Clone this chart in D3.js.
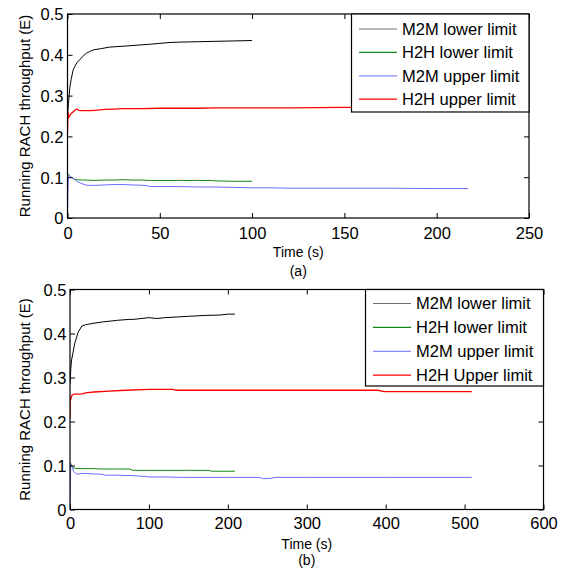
<!DOCTYPE html>
<html>
<head>
<meta charset="utf-8">
<script src="https://cdn.jsdelivr.net/npm/d3@7"></script>
<style>
  body { margin: 0; background: #fff; }
  svg { display: block; }
  text { font-family: "Liberation Sans", Arial, sans-serif; fill: #000; }
</style>
</head>
<body>
<svg id="chart" width="569" height="574"></svg>
<script>
// ---------- DATA ----------
const seriesNames = ["M2M lower limit", "H2H lower limit", "M2M upper limit", "H2H upper limit"];
const seriesNamesB = ["M2M lower limit", "H2H lower limit", "M2M upper limit", "H2H Upper limit"];
const yTicks = [0, 0.1, 0.2, 0.3, 0.4, 0.5];
const yTickLabels = ["0", "0.1", "0.2", "0.3", "0.4", "0.5"];
const xTicksA = [0, 50, 100, 150, 200, 250];
const xTickLabelsA = ["0", "50", "100", "150", "200", "250"];
const xTicksB = [0, 100, 200, 300, 400, 500, 600];
const xTickLabelsB = ["0", "100", "200", "300", "400", "500", "600"];

// (a) top chart
const tA_M2MLower = [0, 0.5, 1.3, 2, 3, 4, 5, 6.7, 8, 10.3, 12, 14, 18, 23, 30, 39, 45, 50, 55, 60, 70, 80, 90, 100];
const vA_M2MLower = [0.25, 0.28, 0.322, 0.34, 0.362, 0.372, 0.38, 0.388, 0.395, 0.404, 0.408, 0.412, 0.415, 0.419, 0.421, 0.424, 0.426, 0.428, 0.43, 0.431, 0.432, 0.433, 0.434, 0.435];
const tA_H2HLower = [0, 0.5, 1, 2, 3, 4, 5, 8, 10, 15, 20, 25, 30, 35, 40, 45, 50, 60, 70, 78, 80, 90, 100];
const vA_H2HLower = [0.105, 0.108, 0.104, 0.1, 0.097, 0.095, 0.094, 0.093, 0.093, 0.092, 0.093, 0.093, 0.094, 0.093, 0.093, 0.092, 0.092, 0.092, 0.092, 0.092, 0.091, 0.090, 0.090];
const tA_M2MUpper = [0, 0.2, 0.5, 1, 2, 3, 4, 5, 7, 9, 11, 13, 15, 20, 25, 30, 35, 42, 45, 50, 60, 70, 80, 90, 100, 110, 120, 130, 150, 175, 200, 217];
const vA_M2MUpper = [0, 0.06, 0.1, 0.105, 0.1, 0.097, 0.094, 0.09, 0.086, 0.082, 0.08, 0.08, 0.08, 0.081, 0.082, 0.082, 0.081, 0.080, 0.077, 0.077, 0.077, 0.076, 0.076, 0.075, 0.074, 0.074, 0.073, 0.073, 0.073, 0.073, 0.072, 0.072];
const tA_H2HUpper = [0, 0.3, 0.6, 1, 2, 3, 4, 5, 6, 8, 10, 12, 15, 20, 25, 30, 40, 50, 55, 60, 70, 80, 100, 120, 150, 175, 200, 217];
const vA_H2HUpper = [0.208, 0.26, 0.245, 0.25, 0.256, 0.26, 0.264, 0.267, 0.264, 0.263, 0.263, 0.263, 0.264, 0.266, 0.267, 0.268, 0.268, 0.269, 0.269, 0.269, 0.269, 0.27, 0.270, 0.270, 0.271, 0.271, 0.271, 0.271];

// (b) bottom chart
const tB_M2MLower = [0, 0.5, 1, 2, 4, 6, 8.5, 10, 15, 20, 29, 40, 50, 60, 75, 80, 100, 110, 120, 150, 170, 190, 200, 209];
const vB_M2MLower = [0.285, 0.3, 0.32, 0.34, 0.358, 0.378, 0.392, 0.402, 0.417, 0.42, 0.423, 0.426, 0.428, 0.43, 0.432, 0.432, 0.436, 0.434, 0.436, 0.439, 0.441, 0.442, 0.444, 0.444];
const tB_H2HLower = [0, 1, 3, 5, 10, 20, 30, 40, 60, 75, 80, 100, 150, 175, 180, 209];
const vB_H2HLower = [0.108, 0.104, 0.097, 0.094, 0.093, 0.093, 0.093, 0.092, 0.092, 0.092, 0.089, 0.089, 0.089, 0.089, 0.087, 0.087];
const tB_M2MUpper = [0, 0.3, 1, 2, 3, 4, 5, 7, 10, 15, 20, 30, 40, 45, 60, 80, 95, 100, 120, 140, 150, 200, 240, 245, 255, 260, 300, 400, 509];
const vB_M2MUpper = [0, 0.05, 0.103, 0.1, 0.095, 0.09, 0.086, 0.082, 0.08, 0.082, 0.082, 0.081, 0.08, 0.078, 0.078, 0.077, 0.075, 0.074, 0.074, 0.073, 0.073, 0.073, 0.073, 0.070, 0.071, 0.073, 0.073, 0.073, 0.073];
const tB_H2HUpper = [0, 0.3, 0.8, 2.5, 5, 8, 12, 15, 20, 30, 50, 70, 100, 110, 130, 135, 200, 300, 390, 398, 400, 509];
const vB_H2HUpper = [0.207, 0.253, 0.25, 0.26, 0.262, 0.262, 0.262, 0.263, 0.265, 0.267, 0.269, 0.271, 0.273, 0.273, 0.273, 0.271, 0.271, 0.271, 0.271, 0.268, 0.268, 0.268];

const colors = ["#000000", "#118811", "#6a6aff", "#ff0000"];
const legendColors = ["#707070", "#118811", "#8888ff", "#ff0000"];

// ---------- DRAW ----------
const svg = d3.select("#chart");

function drawChart(cfg) {
  const x = d3.scaleLinear().domain(cfg.xDomain).range([cfg.left, cfg.right]);
  const y = d3.scaleLinear().domain([0, 0.5]).range([cfg.bottom, cfg.top]);
  const g = svg.append("g");

  const clipId = "clip" + cfg.id;
  g.append("clipPath").attr("id", clipId).append("rect")
    .attr("x", cfg.left).attr("y", cfg.top)
    .attr("width", cfg.right - cfg.left).attr("height", cfg.bottom - cfg.top);

  const line = d3.line().x(d => x(d[0])).y(d => y(d[1]));
  const lines = g.append("g").attr("clip-path", `url(#${clipId})`);
  cfg.series.forEach((s, i) => {
    const pts = s.t.map((t, k) => [t, s.v[k]]);
    lines.append("path").datum(pts)
      .attr("d", line)
      .attr("fill", "none")
      .attr("stroke", colors[i])
      .attr("stroke-width", i === 3 ? 1.3 : 1)
      .attr("stroke-linejoin", "round");
  });

  // axes with inward ticks on all four sides
  const tickLen = 5;
  const axB = d3.axisBottom(x).tickValues(cfg.xTicks).tickFormat((d, i) => cfg.xTickLabels[i]).tickSizeInner(-tickLen).tickSizeOuter(0).tickPadding(0);
  const axT = d3.axisTop(x).tickValues(cfg.xTicks).tickFormat("").tickSizeInner(-tickLen).tickSizeOuter(0);
  const axL = d3.axisLeft(y).tickValues(yTicks).tickFormat((d, i) => yTickLabels[i]).tickSizeInner(-tickLen).tickSizeOuter(0).tickPadding(0);
  const axR = d3.axisRight(y).tickValues(yTicks).tickFormat("").tickSizeInner(-tickLen).tickSizeOuter(0);

  const gB = g.append("g").attr("transform", `translate(0,${cfg.bottom})`).call(axB);
  const gT = g.append("g").attr("transform", `translate(0,${cfg.top})`).call(axT);
  const gL = g.append("g").attr("transform", `translate(${cfg.left},0)`).call(axL);
  const gR = g.append("g").attr("transform", `translate(${cfg.right},0)`).call(axR);
  [gB, gT, gL, gR].forEach(a => {
    a.select(".domain").remove();
    a.selectAll(".tick line").attr("stroke", "#000").attr("stroke-width", 1);
  });
  gB.selectAll(".tick text").attr("font-size", 16.5).attr("font-family", "Liberation Sans, Arial, sans-serif")
    .attr("dy", null).attr("y", cfg.xLabelBase - cfg.bottom);
  gL.selectAll(".tick text").attr("font-size", 16.5).attr("font-family", "Liberation Sans, Arial, sans-serif")
    .attr("x", cfg.yLabelRight - cfg.left).attr("dy", "0.36em");

  // frame
  g.append("rect")
    .attr("x", cfg.left).attr("y", cfg.top)
    .attr("width", cfg.right - cfg.left).attr("height", cfg.bottom - cfg.top)
    .attr("fill", "none").attr("stroke", "#000").attr("stroke-width", 1.2);

  // axis titles
  g.append("text").attr("x", (cfg.left + cfg.right) / 2).attr("y", cfg.xTitleBase)
    .attr("text-anchor", "middle").attr("font-size", 14).text("Time (s)");
  g.append("text").attr("x", (cfg.left + cfg.right) / 2).attr("y", cfg.capBase)
    .attr("text-anchor", "middle").attr("font-size", 14).text(cfg.caption);
  g.append("text")
    .attr("transform", `translate(${cfg.yTitleX},${(cfg.top + cfg.bottom) / 2}) rotate(-90)`)
    .attr("text-anchor", "middle").attr("font-size", 15).text("Running RACH throughput (E)");

  // legend
  const lg = g.append("g");
  lg.append("rect").attr("x", cfg.lgX).attr("y", cfg.top)
    .attr("width", cfg.right - cfg.lgX).attr("height", cfg.lgBottom - cfg.top)
    .attr("fill", "#fff").attr("stroke", "#000").attr("stroke-width", 1.2);
  cfg.names.forEach((name, i) => {
    const cy = cfg.lgRow0 + i * cfg.lgStep;
    lg.append("line").attr("x1", cfg.lgX + 7.5).attr("x2", cfg.lgX + 45.5)
      .attr("y1", cy).attr("y2", cy).attr("stroke", legendColors[i]).attr("stroke-width", 1.2);
    lg.append("text").attr("x", cfg.lgX + 50.5).attr("y", cy).attr("dy", "0.36em")
      .attr("font-size", 16.5).text(name);
  });
}

drawChart({
  id: "a", xDomain: [0, 250], left: 67.5, right: 529, top: 14, bottom: 218,
  xTicks: xTicksA, xTickLabels: xTickLabelsA, xLabelBase: 238.5, yLabelRight: 63.5,
  xTitleBase: 257, capBase: 275.5, caption: "(a)", yTitleX: 29.5,
  lgX: 351.5, lgBottom: 112, lgRow0: 29, lgStep: 23.4, names: seriesNames,
  series: [
    { t: tA_M2MLower, v: vA_M2MLower },
    { t: tA_H2HLower, v: vA_H2HLower },
    { t: tA_M2MUpper, v: vA_M2MUpper },
    { t: tA_H2HUpper, v: vA_H2HUpper }
  ]
});

drawChart({
  id: "b", xDomain: [0, 600], left: 70, right: 543.5, top: 289.5, bottom: 509.5,
  xTicks: xTicksB, xTickLabels: xTickLabelsB, xLabelBase: 528.5, yLabelRight: 66.5,
  xTitleBase: 548.5, capBase: 564.5, caption: "(b)", yTitleX: 29.5,
  lgX: 365.5, lgBottom: 386, lgRow0: 303.5, lgStep: 23.9, names: seriesNamesB,
  series: [
    { t: tB_M2MLower, v: vB_M2MLower },
    { t: tB_H2HLower, v: vB_H2HLower },
    { t: tB_M2MUpper, v: vB_M2MUpper },
    { t: tB_H2HUpper, v: vB_H2HUpper }
  ]
});
</script>
</body>
</html>
